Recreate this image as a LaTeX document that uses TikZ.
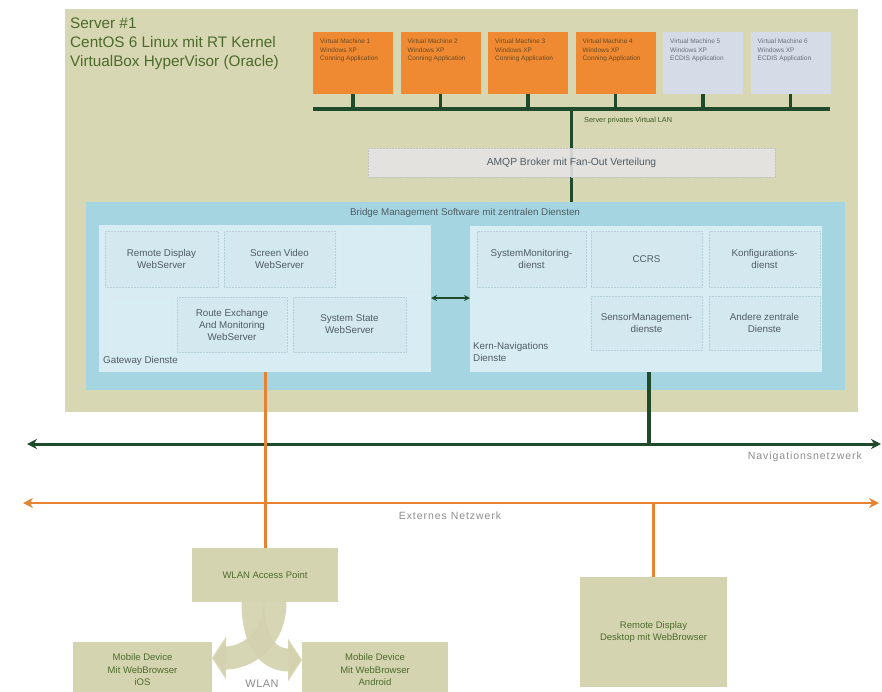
\documentclass[tikz,border=0pt]{standalone}
\usepackage{fontspec}
\setmainfont{Liberation Sans}
\usetikzlibrary{arrows.meta}
\definecolor{srvbg}{HTML}{D8D7B3}
\definecolor{vmor}{HTML}{EF8A33}
\definecolor{vmbl}{HTML}{D5DCE7}
\definecolor{vmtxtc}{HTML}{6A4A20}
\definecolor{vmtxtb}{HTML}{6A6F78}
\definecolor{dkgreen}{HTML}{1F4A2C}
\definecolor{bridgec}{HTML}{A6D5E2}
\definecolor{panelc}{HTML}{D8EDF3}
\definecolor{innerc}{HTML}{D3E9EF}
\definecolor{innerln}{HTML}{B5D0D8}
\definecolor{amqpc}{HTML}{E6E4E4}
\definecolor{amqpln}{HTML}{C4C2C2}
\definecolor{orline}{HTML}{E58330}
\definecolor{khaki}{HTML}{D5D4B0}
\definecolor{khakiarr}{HTML}{D3D1AE}
\definecolor{olivetxt}{HTML}{4C6A2C}
\definecolor{graytxt}{HTML}{8C8C8C}
\definecolor{bluetxt}{HTML}{4F5C63}
\pgfdeclarelayer{back}
\pgfdeclarelayer{mid}
\pgfsetlayers{back,mid,main}
\begin{document}
\begin{tikzpicture}[x=1pt,y=-1pt,
  base/.style={anchor=north west, inner sep=0pt, outer sep=0pt, align=center},
  vmbox/.style={base, fill=vmor, minimum width=80pt, minimum height=62pt},
  ecdisbox/.style={base, fill=vmbl, minimum width=80pt, minimum height=62pt},
  vmtxt/.style={anchor=north west, align=left, inner sep=0pt, text=vmtxtc, font=\fontsize{6.5}{8.5}\selectfont},
  innerbox/.style={base, fill=innerc, draw=innerln, line width=0.5pt, densely dotted, text=bluetxt, font=\fontsize{9.8}{12}\selectfont},
  faintbox/.style={base, draw=innerln!50, line width=0.4pt, densely dotted},
  panelbox/.style={base, fill=panelc},
  khakibox/.style={base, fill=khaki, text=olivetxt, font=\fontsize{9.5}{12.5}\selectfont},
  greenln/.style={draw=dkgreen, line width=3.5pt},
  orangeln/.style={draw=orline, line width=3pt},
  netlabel/.style={text=graytxt, inner sep=0pt, font=\fontsize{10.5}{12}\selectfont\addfontfeature{LetterSpace=9}},
  wlanarrow/.style={draw=khakiarr, line width=23pt, -{Triangle[length=14pt,width=42pt]}},
  smalllabel/.style={inner sep=0pt, text=bluetxt, font=\fontsize{9.8}{12}\selectfont}
]
\useasboundingbox (0,0) rectangle (882,691);
\clip (0,0) rectangle (882,691);

% ---------- background layer: server and bridge ----------
\begin{pgfonlayer}{back}
\node[base, fill=srvbg, minimum width=793pt, minimum height=403pt] (server) at (65,9) {};
\node[base, fill=bridgec, minimum width=759pt, minimum height=188pt] (bridge) at (86,202) {};
\end{pgfonlayer}

\node[anchor=north west, align=left, inner sep=0pt, text=olivetxt, font=\fontsize{15.3}{19}\selectfont] (title) at (70,18)
  {Server \#1\\CentOS 6 Linux mit RT Kernel\\VirtualBox HyperVisor (Oracle)};

% ---------- virtual machines ----------
\node[vmbox] (vm1) at (313,32) {};
\node[vmbox] (vm2) at (400.5,32) {};
\node[vmbox] (vm3) at (488,32) {};
\node[vmbox] (vm4) at (575.5,32) {};
\node[ecdisbox] (vm5) at (663,32) {};
\node[ecdisbox] (vm6) at (750.5,32) {};
\node[vmtxt] (vm1t) at ([xshift=7pt,yshift=-7pt]vm1.north west) {Virtual Machine 1\\Windows XP\\Conning Application};
\node[vmtxt] (vm2t) at ([xshift=7pt,yshift=-7pt]vm2.north west) {Virtual Machine 2\\Windows XP\\Conning Application};
\node[vmtxt] (vm3t) at ([xshift=7pt,yshift=-7pt]vm3.north west) {Virtual Machine 3\\Windows XP\\Conning Application};
\node[vmtxt] (vm4t) at ([xshift=7pt,yshift=-7pt]vm4.north west) {Virtual Machine 4\\Windows XP\\Conning Application};
\node[vmtxt, text=vmtxtb] (vm5t) at ([xshift=7pt,yshift=-7pt]vm5.north west) {Virtual Machine 5\\Windows XP\\ECDIS Application};
\node[vmtxt, text=vmtxtb] (vm6t) at ([xshift=7pt,yshift=-7pt]vm6.north west) {Virtual Machine 6\\Windows XP\\ECDIS Application};

% ---------- server private virtual LAN ----------
\coordinate (busL) at (313,109);
\coordinate (busR) at (830,109);
\coordinate (busJ) at (571.5,109);
\begin{pgfonlayer}{mid}
\draw[greenln] (busL) -- (busR);
\foreach \v in {vm1,vm2,vm3,vm4,vm5,vm6} {\draw[greenln] (\v.south) -- (\v.south |- busL);}
\draw[greenln] (busJ) -- (busJ |- bridge.north);
\end{pgfonlayer}
\node[anchor=west, inner sep=0pt, text=olivetxt!80!black, font=\fontsize{7.3}{9}\selectfont] (vlan) at (584,121) {Server privates Virtual LAN};

% ---------- AMQP broker ----------
\node[base, fill=amqpc, fill opacity=0.9, text opacity=1, draw=amqpln, line width=0.5pt, densely dotted, minimum width=407pt, minimum height=29pt, text=bluetxt, font=\fontsize{10.3}{12}\selectfont] (amqp) at (368,148) {AMQP Broker mit Fan-Out Verteilung};

% ---------- bridge management software ----------
\node[smalllabel] (bridget) at (465,213) {Bridge Management Software mit zentralen Diensten};

\node[panelbox, minimum width=332pt, minimum height=147pt] (gateway) at (99,225) {};
\node[panelbox, minimum width=352pt, minimum height=146pt] (kern) at (470,226) {};

\node[faintbox, minimum width=85pt, minimum height=60pt] (gwf1) at (343,231) {};
\node[faintbox, minimum width=66pt, minimum height=55pt] (gwf2) at (105,297) {};

\node[innerbox, minimum width=113pt, minimum height=56pt] (rdws) at (105,231) {Remote Display\\WebServer};
\node[innerbox, minimum width=111pt, minimum height=56pt] (svws) at (224,231) {Screen Video\\WebServer};
\node[innerbox, minimum width=110pt, minimum height=55pt] (rews) at (177,297) {Route Exchange\\And Monitoring\\WebServer};
\node[innerbox, minimum width=113pt, minimum height=55pt] (ssws) at (293,297) {System State\\WebServer};
\node[smalllabel, anchor=west] (gwlabel) at (103,361) {Gateway Dienste};

\node[innerbox, minimum width=109pt, minimum height=56pt] (smd) at (477,231) {SystemMonitoring-\\dienst};
\node[innerbox, minimum width=111pt, minimum height=56pt] (ccrs) at (591,231) {CCRS};
\node[innerbox, minimum width=111pt, minimum height=56pt] (kfd) at (709,231) {Konfigurations-\\dienst};
\node[innerbox, minimum width=111pt, minimum height=54pt] (sensd) at (591,296) {SensorManagement-\\dienste};
\node[innerbox, minimum width=111pt, minimum height=54pt] (andd) at (709,296) {Andere zentrale\\Dienste};
\node[smalllabel, anchor=north west, align=left] (kernlabel) at (473,342) {Kern-Navigations\\Dienste};

\draw[dkgreen, line width=1.3pt, {Stealth[length=6pt,width=6pt]}-{Stealth[length=6pt,width=6pt]}]
  ([yshift=-73pt]gateway.north east) -- ([yshift=-72pt]kern.north west);

% ---------- networks ----------
\coordinate (navL) at (27,444);
\coordinate (navR) at (881,444);
\coordinate (extL) at (23,503);
\coordinate (extR) at (879,503);
\coordinate (navJ) at (649,444);

\node[khakibox, minimum width=146pt, minimum height=54pt] (ap) at (192,548) {WLAN Access Point};
\node[khakibox, minimum width=139pt, minimum height=56pt] (ios) at (73,642) {Mobile Device\\Mit WebBrowser\\iOS};
\node[khakibox, minimum width=146pt, minimum height=56pt] (android) at (302,642) {Mobile Device\\Mit WebBrowser\\Android};
\node[khakibox, minimum width=147pt, minimum height=110pt] (desk) at (580,577) {Remote Display\\Desktop mit WebBrowser};

\begin{pgfonlayer}{mid}
\draw[greenln, line width=3pt, {Stealth[length=10pt,width=10pt]}-{Stealth[length=10pt,width=10pt]}] (navL) -- (navR);
\draw[orangeln, line width=2.8pt, {Stealth[length=10pt,width=10pt]}-{Stealth[length=10pt,width=10pt]}] (extL) -- (extR);
\draw[greenln, line width=3.5pt] (kern.south -| navJ) -- (navJ);
\draw[orangeln] (gateway.south -| ap.north) -- (ap.north);
\draw[orangeln] (desk.north |- extL) -- (desk.north);
\end{pgfonlayer}

\node[netlabel, anchor=east] (navlabel) at (862,457) {Navigationsnetzwerk};
\node[netlabel] (extlabel) at (450,516) {Externes Netzwerk};

% ---------- WLAN arrows ----------
\draw[wlanarrow, draw opacity=0.92] ([xshift=10pt]ap.south) .. controls +(0,38) and +(35,0) .. ([yshift=-16pt]ios.north east);
\draw[wlanarrow, draw opacity=0.92] ([xshift=-12pt]ap.south) .. controls +(0,38) and +(-35,0) .. ([yshift=-18pt]android.north west);
\node[netlabel, font=\fontsize{11}{13}\selectfont\addfontfeature{LetterSpace=4}] (wlan) at (262,684) {WLAN};
\end{tikzpicture}
\end{document}
